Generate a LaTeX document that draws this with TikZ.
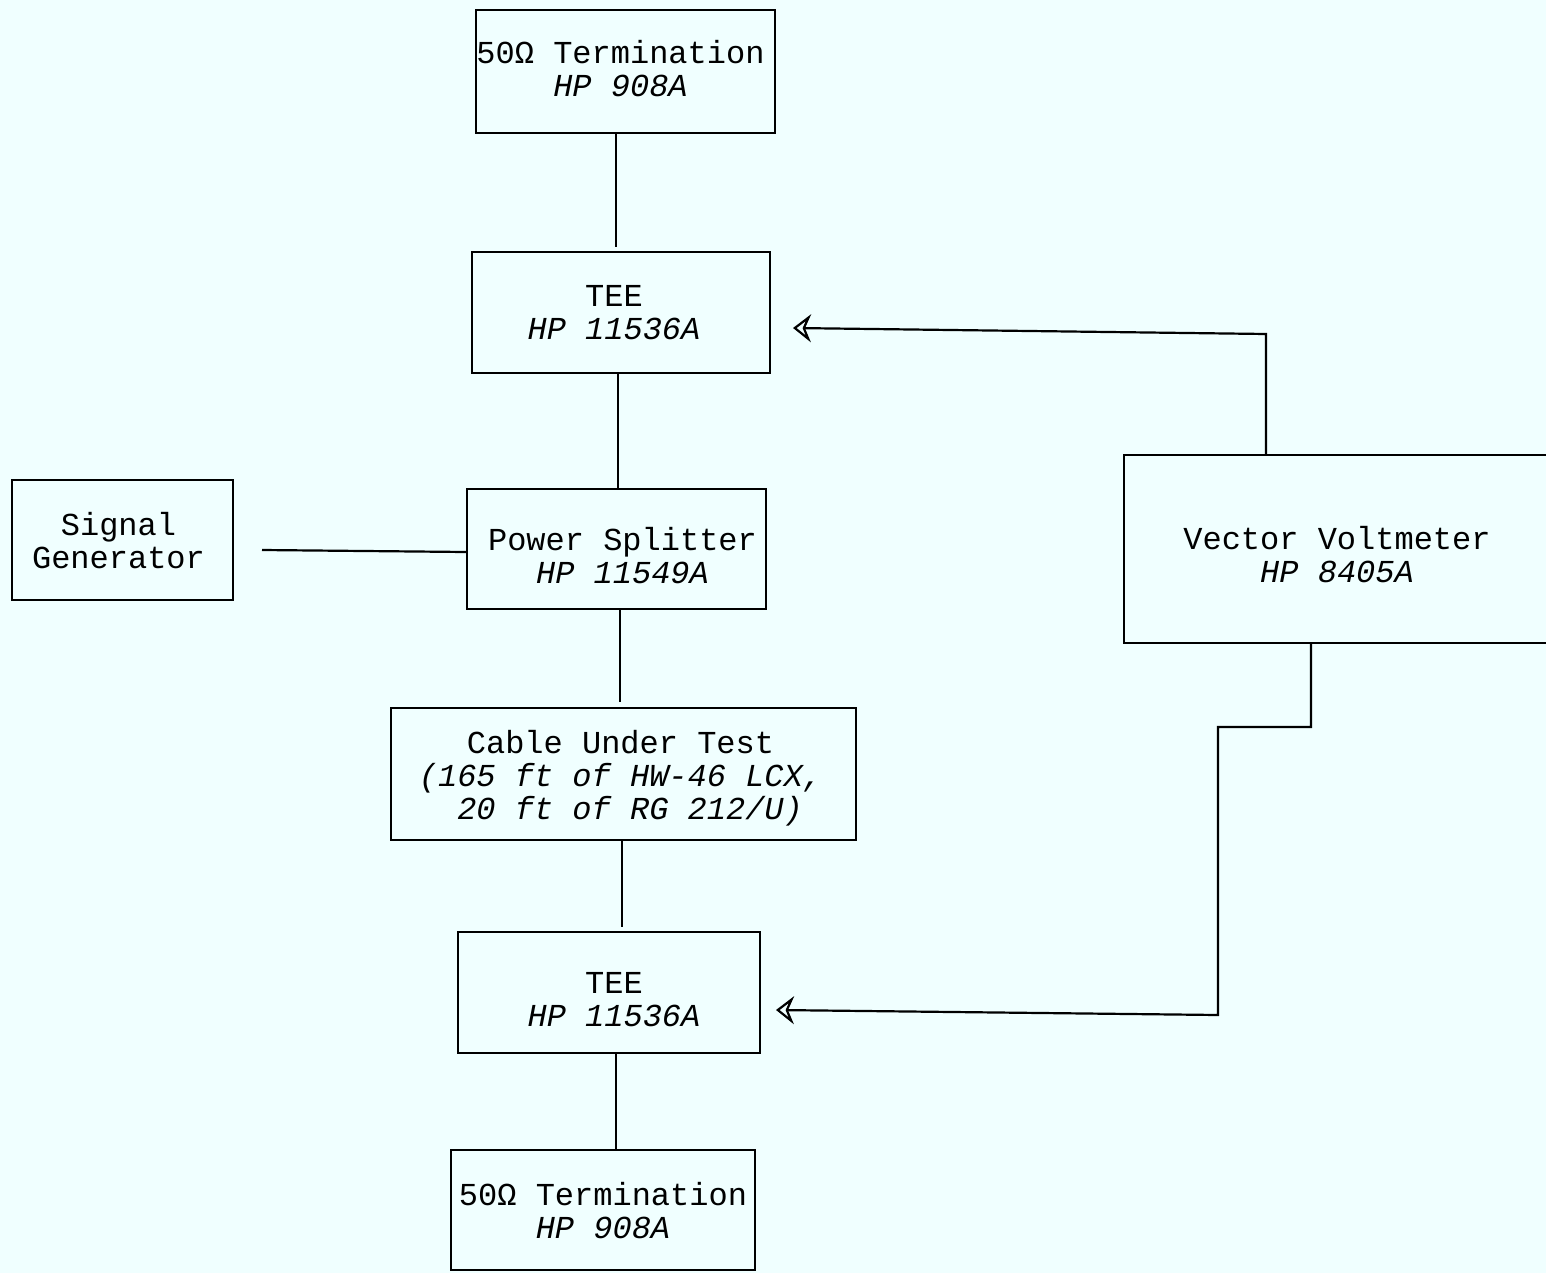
\documentclass[tikz,border=0pt]{standalone}
\usepackage{fontspec}
\setmainfont{Liberation Mono}
\usetikzlibrary{arrows.meta}
\definecolor{bgc}{RGB}{240,255,255}
\newcommand\boxtext[3]{\raisebox{#2}[\height][\depth]{\hspace*{#1}\begin{tabular}{@{}c@{}}#3\end{tabular}}}
\begin{document}
\begin{tikzpicture}[x=0.5pt,y=-0.5pt,
  box/.style={draw,line width=1.1pt,inner sep=0pt,
    font=\fontsize{16}{16.5}\selectfont},
  conn/.style={line width=1.1pt},
  arr/.style={conn,-{Stealth[open,length=9pt,width=14pt,inset=3pt,line width=1.1pt]}}]
\fill[bgc] (0,0) rectangle (1546,1273);
\useasboundingbox (0,0) rectangle (1546,1273);
\begin{scope}
\clip (0,0) rectangle (1546,1273);
% boxes
\node[box,minimum width=149.5pt,minimum height=61.5pt] (term1) at (625.5,71.5) {\boxtext{-5pt}{-1pt}{50Ω Termination\\\textit{HP 908A}}};
\node[box,minimum width=149pt,minimum height=60.5pt] (tee1) at (621,312.5) {\boxtext{-7pt}{-2pt}{TEE\\\textit{HP 11536A}}};
\node[box,minimum width=149.5pt,minimum height=60pt] (ps) at (616.5,549) {\boxtext{6pt}{-5.5pt}{Power Splitter\\\textit{HP 11549A}}};
\node[box,minimum width=110.5pt,minimum height=60pt] (sg) at (122.5,540) {\boxtext{-4pt}{-2.5pt}{Signal\\Generator}};
\node[box,minimum width=218pt,minimum height=94pt] (vv) at (1342,549) {\boxtext{-5pt}{-5pt}{Vector Voltmeter\\\textit{HP 8405A}}};
\node[box,minimum width=232.5pt,minimum height=66pt] (cut) at (623.5,774) {\boxtext{-3pt}{-3pt}{Cable Under Test\\\textit{(165 ft of HW-46 LCX,}\\\textit{\ 20 ft of RG 212/U)}}};
\node[box,minimum width=151pt,minimum height=60.5pt] (tee2) at (609,992.5) {\boxtext{5pt}{-5.5pt}{TEE\\\textit{HP 11536A}}};
\node[box,minimum width=152pt,minimum height=60pt] (term2) at (603,1210) {\boxtext{0pt}{-2.5pt}{50Ω Termination\\\textit{HP 908A}}};
\end{scope}
% vertical chain
\draw[conn] (term1.south -| 616,0) -- (616,247);
\draw[conn] (tee1.south -| 618,0) -- (ps.north -| 618,0);
\draw[conn] (ps.south -| 620,0) -- (620,702);
\draw[conn] (cut.south -| 622,0) -- (622,927);
\draw[conn] (tee2.south -| 616,0) -- (term2.north -| 616,0);
% signal generator
\coordinate (sgl) at (262,550);
\draw[conn] (sgl) -- (ps.west |- 0,552);
% vector voltmeter to tees
\coordinate (k1) at (1266,334);
\coordinate (a1) at (793,328);
\draw[arr] (vv.north -| k1) -- (k1) -- (a1);
\coordinate (k2) at (1311,727);
\coordinate (k3) at (1218,727);
\coordinate (k4) at (1218,1015);
\coordinate (a2) at (776,1010);
\draw[arr] (vv.south -| k2) -- (k2) -- (k3) -- (k4) -- (a2);
\end{tikzpicture}
\end{document}
